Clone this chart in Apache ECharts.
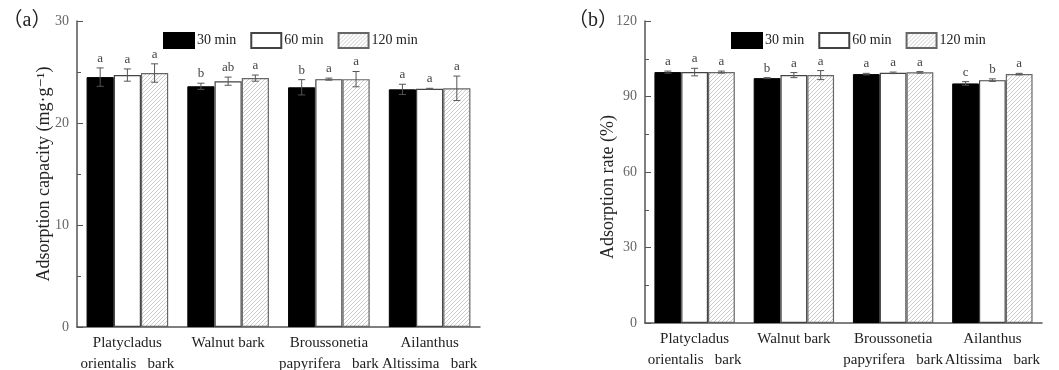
<!DOCTYPE html>
<html><head><meta charset="utf-8">
<script src="https://cdn.jsdelivr.net/npm/echarts@6/dist/echarts.min.js"></script>
<style>html,body{margin:0;padding:0;background:#fff}#c{width:1059px;height:370px}</style>
</head><body><div id="c"></div>
<script>
const categories = ['Platycladus\norientalis   bark', 'Walnut bark', 'Broussonetia\npapyrifera   bark', 'Ailanthus\nAltissima   bark'];
const seriesNames = ['30 min', '60 min', '120 min'];
// Panel (a) adsorption capacity (mg/g)
const cap30 = [24.5, 23.6, 23.5, 23.3];
const cap60 = [24.7, 24.1, 24.3, 23.35];
const cap120 = [24.9, 24.4, 24.3, 23.4];
const capErr30 = [0.9, 0.3, 0.75, 0.5];
const capErr60 = [0.6, 0.4, 0.1, 0.05];
const capErr120 = [0.9, 0.3, 0.75, 1.2];
const capLet30 = ['a', 'b', 'b', 'a'];
const capLet60 = ['a', 'ab', 'a', 'a'];
const capLet120 = ['a', 'a', 'a', 'a'];
// Panel (b) adsorption rate (%)
const rate30 = [99.7, 97.3, 98.9, 95.2];
const rate60 = [99.7, 98.5, 99.4, 96.5];
const rate120 = [99.7, 98.5, 99.6, 98.9];
const rateErr30 = [0.4, 0.2, 0.3, 0.7];
const rateErr60 = [1.5, 1.0, 0.3, 0.5];
const rateErr120 = [0.4, 1.8, 0.3, 0.3];
const rateLet30 = ['a', 'b', 'a', 'c'];
const rateLet60 = ['a', 'a', 'a', 'b'];
const rateLet120 = ['a', 'a', 'a', 'a'];
const capTicks = [0, 10, 20, 30];
const rateTicks = [0, 30, 60, 90, 120];

const SERIF = '"Liberation Serif","DejaVu Serif",serif';
function makeHatch() {
  const n = 4;
  const c = document.createElement('canvas'); c.width = c.height = n;
  const g = c.getContext('2d');
  g.fillStyle = '#fff'; g.fillRect(0, 0, n, n);
  g.strokeStyle = '#c6c6c6'; g.lineWidth = 0.9;
  g.beginPath();
  g.moveTo(0, n); g.lineTo(n, 0);
  g.moveTo(-1, 1); g.lineTo(1, -1);
  g.moveTo(n - 1, n + 1); g.lineTo(n + 1, n - 1);
  g.stroke();
  return c;
}
const hatch = { image: makeHatch(), repeat: 'repeat' };
const styles = [
  { color: '#000', borderColor: '#000', borderWidth: 1 },
  { color: '#fff', borderColor: '#444', borderWidth: 1.2 },
  { color: hatch, borderColor: '#666', borderWidth: 1.2 }
];

function errRender(letters) {
  return function (params, api) {
    const cat = api.value(0), v = api.value(1), e = api.value(2), s = api.value(3);
    const w = api.size([1, 0])[0];
    const off = (s - 1) * w * 0.27;
    const top = api.coord([cat, v + e]);
    const bot = api.coord([cat, v - e]);
    const x = top[0] + off;
    const cap = 3.5;
    const ls = { stroke: '#555', lineWidth: 1 };
    return {
      type: 'group', children: [
        { type: 'line', shape: { x1: x, y1: top[1], x2: x, y2: bot[1] }, style: ls },
        { type: 'line', shape: { x1: x - cap, y1: top[1], x2: x + cap, y2: top[1] }, style: ls },
        { type: 'line', shape: { x1: x - cap, y1: bot[1], x2: x + cap, y2: bot[1] }, style: ls },
        { type: 'text', style: { text: letters[s][cat], x: x, y: top[1] - 3, align: 'center', verticalAlign: 'bottom', font: '13px ' + SERIF, fill: '#444' } }
      ]
    };
  };
}
function errData(vals, errs) {
  const d = [];
  vals.forEach((arr, s) => arr.forEach((v, c) => d.push([c, v, errs[s][c], s])));
  return d;
}

const chart = echarts.init(document.getElementById('c'));
const grids = [
  { left: 77, right: 579, top: 21, bottom: 43, containLabel: false, outerBoundsMode: 'none' },
  { left: 645, right: 17, top: 21, bottom: 47, containLabel: false, outerBoundsMode: 'none' }
];
function xAxes(gi) {
  return [
    {
      type: 'category', gridIndex: gi, data: categories,
      axisLine: { lineStyle: { color: '#555', width: 1.5 } },
      axisTick: { show: false },
      axisLabel: { fontFamily: SERIF, fontSize: 15, color: '#222', lineHeight: 21, margin: 6, interval: 0 }
    },
    {
      type: 'category', gridIndex: gi, data: ['', '', '', '', '', '', '', ''], position: 'bottom',
      axisLine: { show: false }, axisLabel: { show: false },
      axisTick: { inside: true, length: 3, lineStyle: { color: '#555' } }
    }
  ];
}
function yAxis(gi, ticks) {
  return {
    type: 'value', gridIndex: gi, min: ticks[0], max: ticks[ticks.length - 1], interval: ticks[1] - ticks[0],
    axisLine: { show: true, lineStyle: { color: '#555', width: 1.5 } },
    axisTick: { show: true, inside: true, length: 6, lineStyle: { color: '#555' } },
    minorTick: { show: true, splitNumber: 2, length: 4, lineStyle: { color: '#555' } },
    splitLine: { show: false },
    axisLabel: { fontFamily: SERIF, fontSize: 14, color: '#666', margin: 8 }
  };
}
const capVals = [cap30, cap60, cap120], capErrs = [capErr30, capErr60, capErr120];
const rateVals = [rate30, rate60, rate120], rateErrs = [rateErr30, rateErr60, rateErr120];
const series = [];
[[capVals, 0], [rateVals, 1]].forEach(([vals, gi]) => {
  vals.forEach((arr, s) => series.push({
    type: 'bar', name: seriesNames[s], xAxisIndex: gi * 2, yAxisIndex: gi, data: arr,
    barGap: '0%', barCategoryGap: '19%', itemStyle: styles[s], silent: true
  }));
});
series.push({ type: 'custom', xAxisIndex: 0, yAxisIndex: 0, data: errData(capVals, capErrs),
  renderItem: errRender([capLet30, capLet60, capLet120]), z: 5, silent: true });
series.push({ type: 'custom', xAxisIndex: 2, yAxisIndex: 1, data: errData(rateVals, rateErrs),
  renderItem: errRender([rateLet30, rateLet60, rateLet120]), z: 5, silent: true });

const legendBase = {
  data: seriesNames, itemWidth: 30, itemHeight: 15, itemGap: 14, icon: 'rect',
  textStyle: { fontFamily: SERIF, fontSize: 14, color: '#222', padding: [0, 0, 0, -2] }, top: 27
};
const PANEL_FONT = '20px "Liberation Serif","Noto Sans CJK SC",serif';
chart.setOption({
  animation: false,
  grid: grids,
  xAxis: [...xAxes(0), ...xAxes(1)],
  yAxis: [yAxis(0, capTicks), yAxis(1, rateTicks)],
  legend: [Object.assign({ left: 158 }, legendBase), Object.assign({ left: 726 }, legendBase)],
  series: series,
  graphic: [
    { type: 'text', x: 27, y: 21, style: { text: '（a）', font: PANEL_FONT, fill: '#222', align: 'center', verticalAlign: 'middle' } },
    { type: 'text', x: 593, y: 21, style: { text: '（b）', font: PANEL_FONT, fill: '#222', align: 'center', verticalAlign: 'middle' } },
    { type: 'text', x: 44, y: 174, rotation: Math.PI / 2, style: { text: 'Adsorption capacity (mg·g⁻¹)', font: '18px ' + SERIF, fill: '#222', align: 'center', verticalAlign: 'middle' } },
    { type: 'text', x: 608, y: 187, rotation: Math.PI / 2, style: { text: 'Adsorption rate (%)', font: '18px ' + SERIF, fill: '#222', align: 'center', verticalAlign: 'middle' } }
  ]
});
</script></body></html>
